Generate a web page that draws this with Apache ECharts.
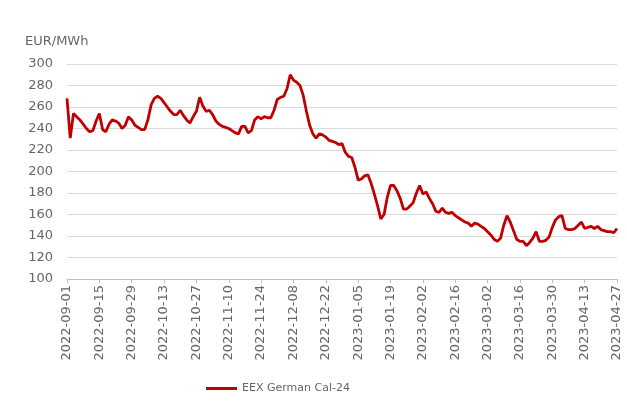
<!DOCTYPE html>
<html>
<head>
<meta charset="utf-8">
<script src="https://cdn.jsdelivr.net/npm/echarts@6/dist/echarts.min.js"></script>
<style>
  html, body { margin: 0; padding: 0; background: #fff; }
  #main { width: 627px; height: 403px; }
</style>
</head>
<body>
<div id="main"></div>
<script>
// trading days (Mon-Fri) from 2022-09-01 to 2023-04-27
var dates = [];
(function () {
    var d = new Date(Date.UTC(2022, 8, 1));
    var end = new Date(Date.UTC(2023, 3, 27));
    while (d <= end) {
        var wd = d.getUTCDay();
        if (wd !== 0 && wd !== 6) {
            dates.push(d.toISOString().slice(0, 10));
        }
        d.setUTCDate(d.getUTCDate() + 1);
    }
})();

var seriesName = 'EEX German Cal-24';
var unitLabel = 'EUR/MWh';

// price, EUR/MWh (one per trading day)
var cal24 = [
    268, 231, 254, 251, 248, 244, 240, 237, 238, 247,
    254, 239, 237, 244, 248, 247, 245, 240, 243, 251,
    248, 243, 241, 239, 239, 248, 262, 268, 270, 268,
    264, 260, 256, 253, 253, 257, 252, 248, 245, 251,
    256, 269, 261, 256, 257, 253, 247, 244, 242, 241,
    240, 238, 236, 235, 242, 242, 236, 238, 248, 251,
    249, 251, 250, 250, 257, 267, 269, 270, 277, 290,
    285, 283, 280, 271, 256, 243, 235, 231, 235, 234,
    232, 229, 228, 227, 225, 226, 218, 214, 213, 204,
    192, 193, 196, 197, 189, 179, 168, 156, 160, 176,
    187, 187, 182, 175, 165, 165, 168, 171, 180, 187,
    179, 181, 175, 170, 163, 162, 166, 162, 161, 162,
    159, 157, 155, 153, 152, 149, 152, 151, 149, 147,
    144, 141, 137, 135, 138, 150, 159, 153, 145, 137,
    135, 135, 131, 134, 138, 144, 135, 135, 136, 139,
    148, 155, 158, 159, 147, 146, 146, 147, 150, 153,
    147, 148, 149, 147, 149, 146, 145, 144, 144, 143,
    147
];

var myChart = echarts.init(document.getElementById('main'));
var font = 'DejaVu Sans';
var grey = '#666666';

var option = {
    animation: false,
    backgroundColor: '#ffffff',
    textStyle: { fontFamily: font },
    title: {
        text: unitLabel,
        left: 20,
        top: 30,
        textStyle: { fontSize: 13, fontWeight: 'normal', color: grey, fontFamily: font }
    },
    legend: {
        data: [seriesName],
        left: 201,
        top: 378,
        itemWidth: 31,
        itemHeight: 3,
        itemGap: 3,
        icon: 'rect',
        textStyle: { fontSize: 11, color: grey, fontFamily: font }
    },
    grid: {
        left: 67,
        right: 10,
        top: 64,
        bottom: 124
    },
    xAxis: {
        type: 'category',
        data: dates,
        boundaryGap: false,
        axisLine: { lineStyle: { color: '#bfbfbf' } },
        axisTick: { interval: 9, length: 4, lineStyle: { color: '#bfbfbf' } },
        axisLabel: {
            interval: 9,
            rotate: 90,
            fontSize: 13,
            color: grey,
            fontFamily: font,
            margin: 6
        },
        splitLine: { show: false }
    },
    yAxis: {
        type: 'value',
        min: 100,
        max: 300,
        interval: 20,
        axisLine: { show: false },
        axisTick: { show: false },
        axisLabel: { fontSize: 13, color: grey, fontFamily: font, margin: 14 },
        splitLine: { lineStyle: { color: '#d9d9d9' } }
    },
    series: [{
        name: seriesName,
        type: 'line',
        data: cal24,
        symbol: 'none',
        lineStyle: { color: '#c00000', width: 2.8 },
        itemStyle: { color: '#c00000' }
    }]
};

myChart.setOption(option);
</script>
</body>
</html>
